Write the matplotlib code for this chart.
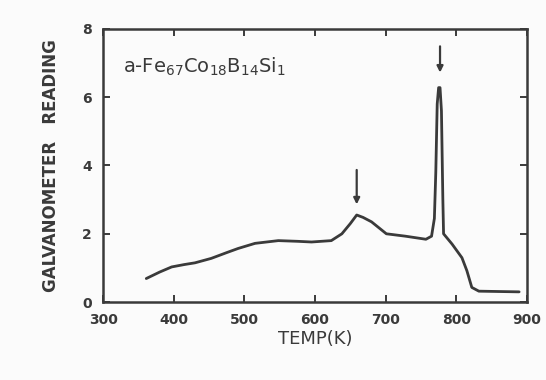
#!/usr/bin/env python3
# -*- coding: utf-8 -*-
"""Galvanometer reading vs temperature for a-Fe67Co18B14Si1."""

import matplotlib
matplotlib.use("Agg")
import matplotlib.pyplot as plt

# curve
temp_k = [361, 380, 397, 415, 430, 453, 475, 491, 515, 548, 575, 595, 623,
          638, 650, 659, 668, 680, 701, 728, 757, 765, 769, 771, 773, 775,
          777, 779, 781, 782, 794, 808, 815, 822, 832, 860, 889]
reading = [0.69, 0.88, 1.03, 1.10, 1.15, 1.28, 1.45, 1.57, 1.72, 1.80, 1.78,
           1.76, 1.80, 2.00, 2.30, 2.55, 2.48, 2.35, 2.00, 1.93, 1.84, 1.93,
           2.45, 3.80, 5.80, 6.28, 6.28, 5.60, 3.00, 2.00, 1.70, 1.30, 0.92,
           0.43, 0.32, 0.31, 0.30]

# arrows marking the two transitions: (temperature, tail, head)
arrow_temp = [659, 777]
arrow_tail = [3.95, 7.57]
arrow_head = [2.78, 6.64]

x_ticks = [300, 400, 500, 600, 700, 800, 900]
y_ticks = [0, 2, 4, 6, 8]

INK = "#3a3a3a"

fig = plt.figure(figsize=(5.46, 3.80), dpi=100)
fig.patch.set_facecolor("#fbfbfb")
ax = fig.add_axes([0.189, 0.205, 0.776, 0.719])
ax.set_facecolor("#fbfbfb")

ax.plot(temp_k, reading, color=INK, linewidth=2.0, solid_capstyle="round",
        solid_joinstyle="round")

for t, y0, y1 in zip(arrow_temp, arrow_tail, arrow_head):
    ax.annotate("", xy=(t, y1), xytext=(t, y0),
                arrowprops=dict(arrowstyle="-|>", color=INK, lw=1.6,
                                mutation_scale=9))

ax.text(328, 6.9, r"a-Fe$_{67}$Co$_{18}$B$_{14}$Si$_{1}$", fontsize=14,
        color=INK, ha="left", va="center")

ax.set_xlim(300, 900)
ax.set_ylim(0, 8)
ax.set_xticks(x_ticks)
ax.set_yticks(y_ticks)
ax.tick_params(direction="in", top=True, right=True, length=5, width=1.4,
               colors=INK, labelsize=10, pad=8)
for lbl in ax.get_xticklabels() + ax.get_yticklabels():
    lbl.set_fontweight("bold")
for sp in ax.spines.values():
    sp.set_color(INK)
    sp.set_linewidth(1.8)

ax.set_xlabel("TEMP(K)", fontsize=13, color=INK, labelpad=2)
ax.set_ylabel("GALVANOMETER   READING", fontsize=12, fontweight="bold",
              color=INK, labelpad=16)

fig.savefig("out.png", dpi=100, facecolor=fig.get_facecolor())
plt.close(fig)
